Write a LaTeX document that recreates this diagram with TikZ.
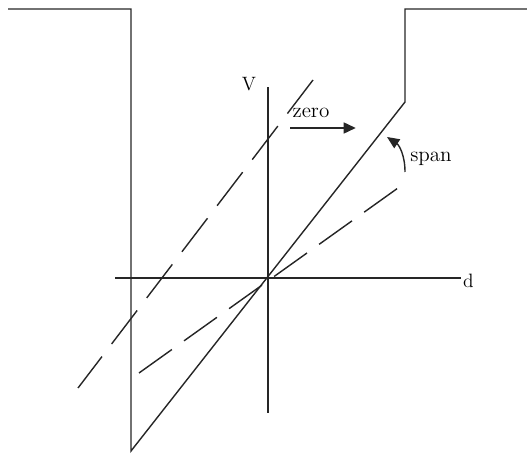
\documentclass[tikz,border=0pt]{standalone}
\usetikzlibrary{arrows.meta, positioning}

\begin{document}
\begin{tikzpicture}[
  x=0.02cm, y=-0.02cm,
  wall/.style={line width=0.8pt, black!85},
  axis/.style={line width=0.8pt, black!85},
  shifted/.style={line width=0.8pt, black!85, dash pattern=on 24pt off 9pt},
  label/.style={font=\fontsize{11}{13}\selectfont, inner sep=1pt},
  tag/.style={font=\fontsize{12}{14}\selectfont, inner sep=1pt},
  arrow/.style={-{Triangle[length=7pt, width=6pt]}, line width=1.6pt, black!85}
]
\useasboundingbox (0,0) rectangle (527,455);

% outline
\coordinate (topL) at (8,9);
\coordinate (cornerL) at (131,9);
\coordinate (bottom) at (131,451);
\coordinate (knee) at (405,102);
\coordinate (cornerR) at (405,9);
\coordinate (topR) at (527,9);
\draw[wall] (topL) -- (cornerL) -- (bottom) -- (knee) -- (cornerR) -- (topR);

% axes
\coordinate (origin) at (268,278);
\coordinate (xstart) at (115,278);
\coordinate (ystart) at (268,413);
\node[label, anchor=west] (d) at (461,281) {d};
\node[label] (V) at (249,84) {V};
\draw[axis] (xstart) -- (d.west |- origin);
\draw[axis] (ystart) -- (268,87);

% dashed lines
\coordinate (zeroLow) at (78,388);
\coordinate (zeroHigh) at (313,80);
\coordinate (spanLow) at (139,373);
\coordinate (spanHigh) at (405,183);
\draw[shifted] (zeroHigh) -- (zeroLow);
\draw[shifted, dash pattern=on 23pt off 8.5pt] (spanLow) -- (spanHigh);

% labels and arrows
\node[tag] (zero) at (311,113) {zero};
\coordinate (zeroStart) at (290,128);
\coordinate (zeroEnd) at (356,128);
\draw[arrow] (zeroStart) -- (zeroEnd);

\node[tag] (span) at (431,159) {span};
\coordinate (spanStart) at (405,172);
\coordinate (spanTip) at (387,137);
\draw[-{Triangle[length=7pt, width=6pt]}, line width=0.8pt, black!85]
  (spanStart) .. controls (405,155) and (399,145) .. (spanTip);
\end{tikzpicture}
\end{document}
